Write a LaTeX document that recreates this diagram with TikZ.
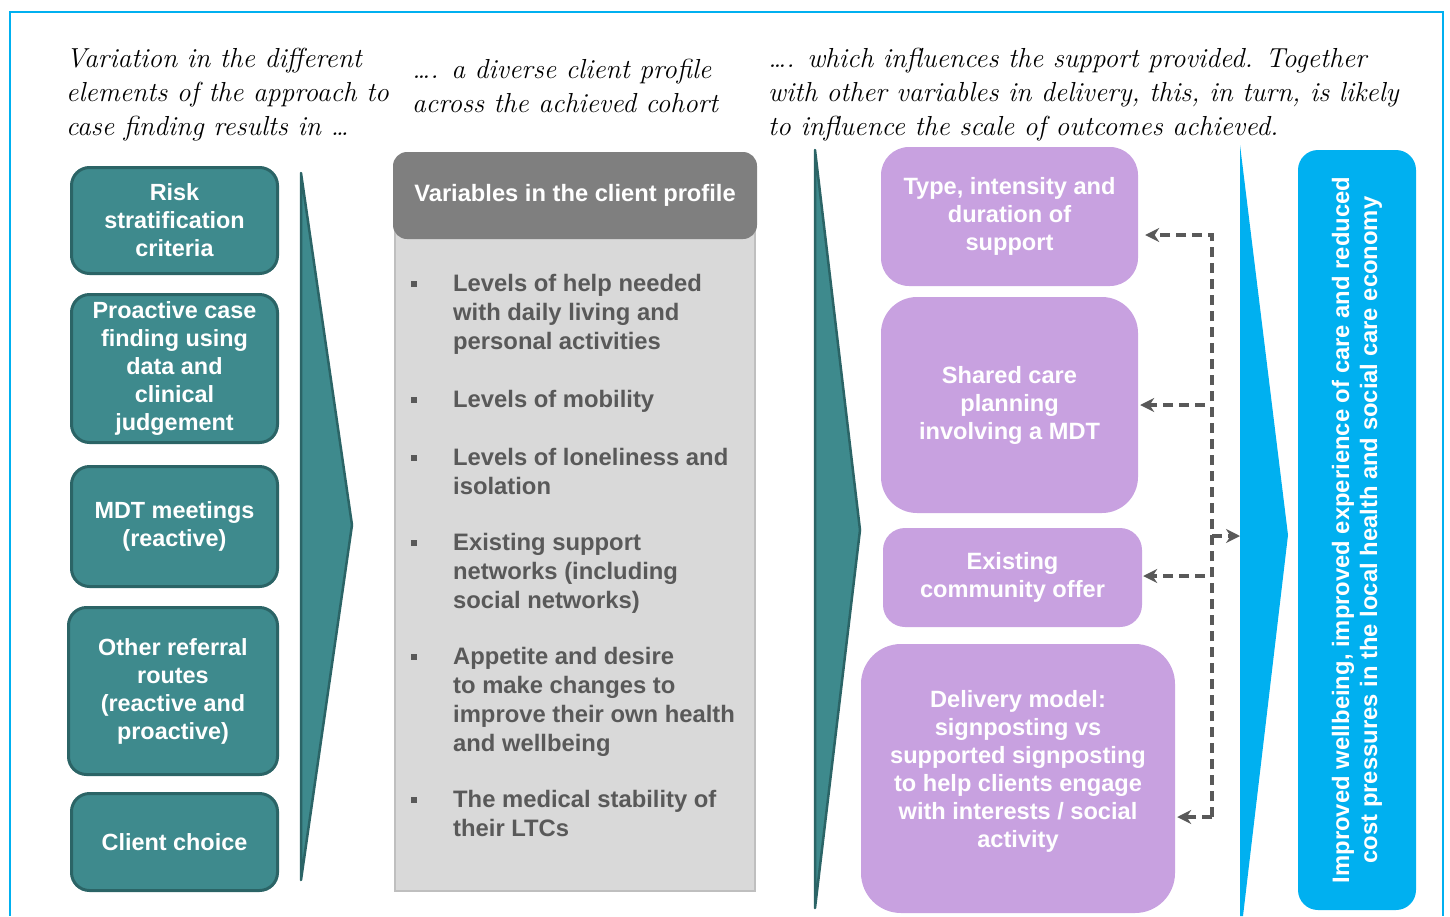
\documentclass[tikz,border=0pt]{standalone}
\usepackage{fontspec}
\usetikzlibrary{arrows.meta}
\newfontfamily\arialfont{Liberation Sans}
\definecolor{tealfill}{HTML}{3E8A8D}
\definecolor{tealline}{HTML}{2B6466}
\definecolor{greyhead}{HTML}{7F7F7F}
\definecolor{greybody}{HTML}{D9D9D9}
\definecolor{greyline}{HTML}{BFBFBF}
\definecolor{greytext}{HTML}{595959}
\definecolor{lilac}{HTML}{C8A1E0}
\definecolor{skyblue}{HTML}{00B0F0}
\begin{document}
\begin{tikzpicture}[x=1pt, y=-1pt,
    hand/.style={anchor=west, align=left, inner sep=0pt, font=\fontsize{27.5}{34}\selectfont\itshape},
    tealbox/.style={draw=tealline, fill=tealfill, line width=3pt, rounded corners=18pt, text=white, align=center, inner sep=0pt, font=\arialfont\bfseries\fontsize{23.4}{28}\selectfont},
    lilacbox/.style={fill=lilac, rounded corners=28pt, text=white, align=center, inner sep=0pt, font=\arialfont\bfseries\fontsize{23.6}{28}\selectfont},
    listitem/.style={anchor=north west, align=left, inner sep=0pt, text=greytext, font=\arialfont\bfseries\fontsize{23.8}{29}\selectfont},
    bullet/.style={fill=greytext, minimum size=6pt, inner sep=0pt},
    dashline/.style={draw=greytext, line width=3.6pt, dash pattern=on 10pt off 6pt, -{Stealth[length=14pt, width=14pt]}}]
    \useasboundingbox (0,0) rectangle (1450,916);
    \draw[skyblue, line width=1.3pt] (10,916) -- (10,12) -- (1443,12) -- (1443,916);

    \node[hand] (intro) at (66,95) {Variation in the different\\elements of the approach to\\case finding results in \ldots};
    \node[hand] (cohort) at (412,86) {\ldots. a diverse client profile\\across the achieved cohort};
    \node[hand] (influence) at (768,95) {\ldots. which influences the support provided. Together\\with other variables in delivery, this, in turn, is likely\\to influence the scale of outcomes achieved.};

    \node[tealbox, minimum width=206pt, minimum height=106pt] (risk) at (174.5,220.5) {Risk\\stratification\\criteria};
    \node[tealbox, minimum width=206pt, minimum height=148pt] (proactive) at (174.5,368.5) {Proactive case\\finding using\\data and\\clinical\\judgement};
    \node[tealbox, minimum width=206pt, minimum height=120pt] (mdt) at (174.5,526.5) {MDT meetings\\(reactive)};
    \node[tealbox, minimum width=209pt, minimum height=167pt] (referral) at (173,691) {Other referral\\routes\\(reactive and\\proactive)};
    \node[tealbox, minimum width=206pt, minimum height=97pt] (choice) at (174.5,842) {Client choice};

    \draw[tealline, fill=tealfill, line width=2.5pt, line join=round] (301,173) -- (352,525) -- (301,880) -- cycle;

    \draw[greyline, fill=greybody, line width=2.5pt] (395,200) rectangle (755,891);
    \node[fill=greyhead, rounded corners=14pt, text=white, minimum width=364pt, minimum height=87pt, inner sep=0pt, font=\arialfont\bfseries\fontsize{23.7}{28}\selectfont] (profile) at (575,195.5) {Variables in the client profile};

    \node[bullet] (b1) at (414,284) {};
    \node[listitem] (help) at (453,274) {Levels of help needed\\with daily living and\\personal activities};
    \node[bullet] (b2) at (414,400) {};
    \node[listitem] (mobility) at (453,390) {Levels of mobility};
    \node[bullet] (b3) at (414,458) {};
    \node[listitem] (loneliness) at (453,448) {Levels of loneliness and\\isolation};
    \node[bullet] (b4) at (414,543) {};
    \node[listitem] (networks) at (453,533) {Existing support\\networks (including\\social networks)};
    \node[bullet] (b5) at (414,657) {};
    \node[listitem] (appetite) at (453,647) {Appetite and desire\\to make changes to\\improve their own health\\and wellbeing};
    \node[bullet] (b6) at (414,800) {};
    \node[listitem] (stability) at (453,790) {The medical stability of\\their LTCs};

    \draw[tealline, fill=tealfill, line width=2.5pt, line join=round] (815,150) -- (860,530) -- (815,908) -- cycle;

    \node[lilacbox, minimum width=257pt, minimum height=139pt] (typesupport) at (1009.5,216.5) {Type, intensity and\\duration of\\support};
    \node[lilacbox, rounded corners=36pt, minimum width=257pt, minimum height=216pt] (careplan) at (1009.5,405) {Shared care\\planning\\involving a MDT};
    \node[lilacbox, rounded corners=22pt, minimum width=259pt, minimum height=99pt] (community) at (1012.5,577.5) {Existing\\community offer};
    \node[lilacbox, rounded corners=40pt, minimum width=314pt, minimum height=269pt] (delivery) at (1018,778.5) {};
    \node[lilacbox, fill=none] (deliverytext) at (1018,771) {Delivery model:\\signposting vs\\supported signposting\\to help clients engage\\with interests / social\\activity};

    \fill[skyblue] (1240,145) -- (1288,535) -- (1243,916) -- (1240,916) -- cycle;
    \node[fill=skyblue, rounded corners=20pt, rotate=90, minimum width=760pt, minimum height=118pt, inner sep=0pt, text=white, align=center, font=\arialfont\bfseries\fontsize{23.8}{28}\selectfont] (outcome) at (1357,530) {Improved wellbeing, improved experience of care and reduced\\cost pressures in the local health and social care economy};

    \coordinate (bustop) at (1212,235);
    \coordinate (busbot) at (1212,817);
    \coordinate (busplan) at (1205,405);
    \coordinate (buscomm) at (1205,576);
    \coordinate (busout) at (1212,536);
    \coordinate (outtip) at (1240,536);

    \draw[dashline, shorten >=7pt] (busbot) -- (bustop) -- (bustop -| typesupport.east);
    \draw[dashline, shorten >=2pt] (busplan) -- (busplan -| careplan.east);
    \draw[dashline, shorten >=1pt] (buscomm) -- (buscomm -| community.east);
    \draw[dashline, shorten >=2pt] (busbot) -- (busbot -| delivery.east);
    \draw[dashline] (busout) -- (outtip);
\end{tikzpicture}
\end{document}
